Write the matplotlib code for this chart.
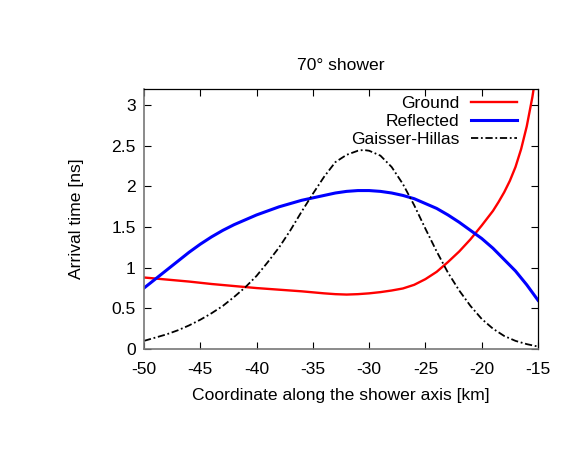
import matplotlib
matplotlib.use('Agg')
import matplotlib.pyplot as plt

plt.rcParams['font.family'] = ['Liberation Sans', 'DejaVu Sans']

# values
ground_x = [-50, -48, -46, -44, -42, -40, -38, -36, -34, -33, -32, -31, -30, -29, -28,
            -27, -26, -25, -24, -23, -22, -21, -20, -19, -18.5, -18, -17.5, -17, -16.5, -16, -15.5, -15]
ground_y = [0.88, 0.855, 0.83, 0.80, 0.775, 0.75, 0.73, 0.71, 0.685, 0.675, 0.67, 0.675, 0.685, 0.70, 0.72,
            0.745, 0.79, 0.86, 0.95, 1.07, 1.20, 1.35, 1.52, 1.70, 1.81, 1.93, 2.07, 2.24, 2.46, 2.74, 3.10, 3.55]

refl_x = [-50, -49, -48, -47, -46, -45, -44, -43, -42, -41, -40, -39, -38, -37, -36, -35, -34, -33,
          -32, -31, -30, -29, -28, -27, -26, -25, -24, -23, -22, -21, -20, -19, -18, -17, -16, -15]
refl_y = [0.75, 0.86, 0.97, 1.08, 1.19, 1.29, 1.38, 1.46, 1.53, 1.59, 1.65, 1.70, 1.75, 1.79, 1.83, 1.86, 1.89, 1.92,
          1.94, 1.95, 1.95, 1.94, 1.92, 1.89, 1.85, 1.79, 1.73, 1.65, 1.56, 1.46, 1.36, 1.24, 1.10, 0.96, 0.79, 0.60]

gh_x = [-50, -49, -48, -47, -46, -45, -44, -43, -42, -41, -40, -39, -38, -37, -36, -35, -34, -33,
        -32, -31, -30.5, -30, -29, -28, -27, -26, -25, -24, -23, -22, -21, -20, -19, -18, -17, -16, -15]
gh_y = [0.10, 0.14, 0.18, 0.23, 0.29, 0.36, 0.44, 0.53, 0.64, 0.76, 0.90, 1.07, 1.25, 1.46, 1.69, 1.91, 2.12, 2.30,
        2.39, 2.44, 2.45, 2.44, 2.38, 2.24, 2.03, 1.77, 1.48, 1.20, 0.94, 0.72, 0.53, 0.37, 0.25, 0.16, 0.10, 0.06, 0.03]

x_ticks = [-50, -45, -40, -35, -30, -25, -20, -15]
y_ticks = [0, 0.5, 1, 1.5, 2, 2.5, 3]

fs = 12.6

fig = plt.figure(figsize=(5.81, 4.49), dpi=100)
ax = fig.add_axes([144/581, 1-349/449, (538-144)/581, (349-89)/449])

ax.plot(ground_x, ground_y, color='#ff0000', lw=1.7, label='Ground')
ax.plot(refl_x, refl_y, color='#0000ff', lw=2.2, label='Reflected')
ax.plot(gh_x, gh_y, color='black', lw=1.3, dashes=(4, 1.5, 1, 1.5), label='Gaisser-Hillas')

ax.set_xlim(-50, -15)
ax.set_ylim(0, 3.2)
ax.set_xticks(x_ticks)
ax.set_xticklabels([str(v) for v in x_ticks])
ax.set_yticks(y_ticks)
ax.set_yticklabels(['0', '0.5', '1', '1.5', '2', '2.5', '3'])
ax.tick_params(direction='in', top=True, right=True, length=5, width=0.8, labelsize=fs)
ax.tick_params(axis='x', pad=9)
ax.tick_params(axis='y', pad=6)
for s in ax.spines.values():
    s.set_linewidth(0.9)
ax.spines['left'].set_color('#777777')
ax.spines['bottom'].set_color('#777777')
ax.spines['left'].set_linewidth(1.2)
ax.spines['bottom'].set_linewidth(1.2)

ax.set_title('70° shower', fontsize=fs, pad=14)
ax.set_xlabel('Coordinate along the shower axis [km]', fontsize=fs, labelpad=8)
ax.set_ylabel('Arrival time [ns]', fontsize=fs, labelpad=20)

ax.legend(loc='upper right', frameon=False, markerfirst=False, fontsize=fs,
          handlelength=2.6, handletextpad=0.7, labelspacing=0.15, borderaxespad=0.0,
          bbox_to_anchor=(0.964, 1.0))

fig.savefig('out.png', dpi=100)
